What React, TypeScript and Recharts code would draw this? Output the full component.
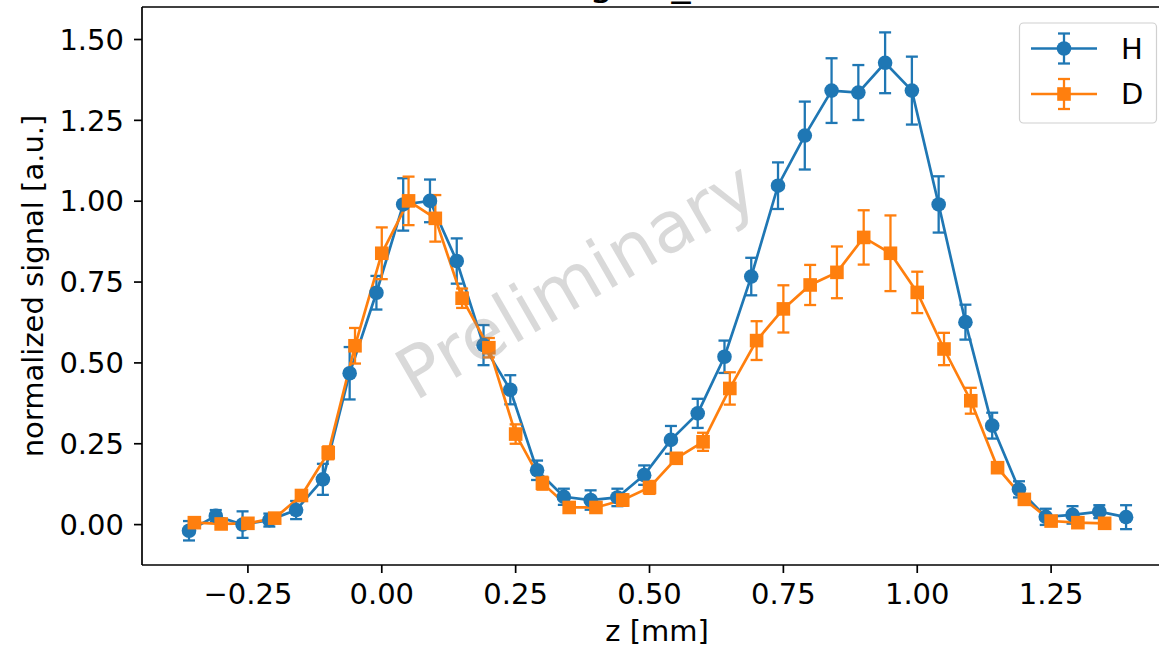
import { LineChart, Line, XAxis, YAxis, ErrorBar } from "recharts"

const BLUE = "#1f77b4"
const ORANGE = "#ff7f0e"
const FONT = "DejaVu Sans"

// H: z from -0.36 in steps of 0.05
const hZ = [
  -0.36, -0.31, -0.26, -0.21, -0.16, -0.11, -0.06, -0.01, 0.04, 0.09, 0.14, 0.19,
  0.24, 0.29, 0.34, 0.39, 0.44, 0.49, 0.54, 0.59, 0.64, 0.69, 0.74, 0.79,
  0.84, 0.89, 0.94, 0.99, 1.04, 1.09, 1.14, 1.19, 1.24, 1.29, 1.34, 1.39,
]
const hVal = [
  -0.019, 0.027, 0.0, 0.014, 0.045, 0.14, 0.468, 0.717, 0.99, 1.001, 0.815, 0.555,
  0.417, 0.168, 0.086, 0.076, 0.084, 0.153, 0.262, 0.344, 0.519, 0.767, 1.048, 1.203,
  1.342, 1.336, 1.428, 1.342, 0.99, 0.626, 0.306, 0.109, 0.024, 0.03, 0.04, 0.023,
]
const hErr = [
  0.03, 0.018, 0.041, 0.02, 0.028, 0.048, 0.081, 0.052, 0.081, 0.066, 0.07, 0.062,
  0.045, 0.03, 0.025, 0.03, 0.027, 0.03, 0.043, 0.045, 0.05, 0.058, 0.072, 0.105,
  0.1, 0.085, 0.094, 0.105, 0.087, 0.054, 0.04, 0.025, 0.025, 0.027, 0.02, 0.037,
]

// D: z from -0.35 in steps of 0.05
const dZ = [
  -0.35, -0.3, -0.25, -0.2, -0.15, -0.1, -0.05, 0.0, 0.05, 0.1, 0.15, 0.2,
  0.25, 0.3, 0.35, 0.4, 0.45, 0.5, 0.55, 0.6, 0.65, 0.7, 0.75, 0.8,
  0.85, 0.9, 0.95, 1.0, 1.05, 1.1, 1.15, 1.2, 1.25, 1.3, 1.35,
]
const dVal = [
  0.006, 0.002, 0.004, 0.02, 0.09, 0.222, 0.553, 0.839, 1.001, 0.947, 0.7, 0.547,
  0.28, 0.128, 0.053, 0.053, 0.076, 0.115, 0.205, 0.256, 0.421, 0.569, 0.667, 0.741,
  0.78, 0.888, 0.839, 0.718, 0.543, 0.383, 0.176, 0.078, 0.011, 0.006, 0.004,
]
const dErr = [
  0.01, 0.01, 0.01, 0.01, 0.012, 0.02, 0.055, 0.08, 0.075, 0.072, 0.03, 0.03,
  0.03, 0.02, 0.015, 0.015, 0.018, 0.02, 0.015, 0.028, 0.05, 0.06, 0.073, 0.062,
  0.08, 0.084, 0.117, 0.064, 0.05, 0.04, 0.015, 0.015, 0.01, 0.01, 0.01,
]

const xTicks = [-0.25, 0, 0.25, 0.5, 0.75, 1.0, 1.25]
const yTicks = [0, 0.25, 0.5, 0.75, 1.0, 1.25, 1.5]

const hData = hZ.map((z, i) => ({ z, v: hVal[i], e: hErr[i] }))
const dData = dZ.map((z, i) => ({ z, v: dVal[i], e: dErr[i] }))

const series = [
  { name: "H", color: BLUE, shape: "circle" },
  { name: "D", color: ORANGE, shape: "square" },
]

const W = 1159
const H = 649

const fmt = (v: number) => {
  const s = Math.abs(v).toFixed(2)
  return v < 0 ? "\u2212" + s : s
}

const Marker = ({ cx, cy, shape, color }: any) =>
  shape === "circle" ? (
    <circle cx={cx} cy={cy} r={7.3} fill={color} />
  ) : (
    <rect x={cx - 6.8} y={cy - 6.8} width={13.6} height={13.6} fill={color} />
  )

const dotFor = (shape: string, color: string) => (props: any) => {
  const { cx, cy, index } = props
  if (cx == null || cy == null) return <g key={index} />
  return <Marker key={index} cx={cx} cy={cy} shape={shape} color={color} />
}

const tickStyle = { fontSize: 29, fill: "#000", fontFamily: FONT }
const axisStroke = { stroke: "#000", strokeWidth: 1.7 }

export default function App() {
  return (
    <div style={{ position: "absolute", left: 0, top: 0, width: W, height: H, background: "#fff" }}>
      <LineChart width={W} height={H} margin={{ top: 7, right: 0, bottom: 0, left: 0 }}>
        <XAxis
          type="number"
          dataKey="z"
          domain={[-0.4478, 1.4515]}
          allowDataOverflow
          ticks={xTicks}
          interval={0}
          tickFormatter={fmt}
          tick={tickStyle}
          tickSize={8}
          tickMargin={10}
          axisLine={axisStroke}
          tickLine={axisStroke}
          height={84}
        />
        <YAxis
          type="number"
          domain={[-0.1249, 1.6005]}
          allowDataOverflow
          ticks={yTicks}
          interval={0}
          tickFormatter={(v: number) => v.toFixed(2)}
          tick={tickStyle}
          tickSize={8}
          tickMargin={10}
          axisLine={axisStroke}
          tickLine={axisStroke}
          width={142}
        />
        <Line
          data={hData}
          dataKey="v"
          name="H"
          type="linear"
          stroke={BLUE}
          strokeWidth={2.7}
          dot={dotFor("circle", BLUE)}
          activeDot={false}
          isAnimationActive={false}
        >
          <ErrorBar dataKey="e" direction="y" width={6} stroke={BLUE} strokeWidth={2.3} isAnimationActive={false} />
        </Line>
        <Line
          data={dData}
          dataKey="v"
          name="D"
          type="linear"
          stroke={ORANGE}
          strokeWidth={2.7}
          dot={dotFor("square", ORANGE)}
          activeDot={false}
          isAnimationActive={false}
        >
          <ErrorBar dataKey="e" direction="y" width={6} stroke={ORANGE} strokeWidth={2.3} isAnimationActive={false} />
        </Line>
      </LineChart>
      <svg
        width={W}
        height={H}
        style={{ position: "absolute", left: 0, top: 0, pointerEvents: "none" }}
        fontFamily={FONT}
      >
        {/* title, mostly cut off by the crop */}
        <text x={559} y={-5} fontSize={38} fill="#000">signal_H/D</text>
        {/* top spine */}
        <line x1={142} y1={7} x2={W} y2={7} stroke="#000" strokeWidth={1.7} />
        {/* axis labels */}
        <text x={657} y={641} fontSize={29} textAnchor="middle" fill="#000">z [mm]</text>
        <text
          x={43}
          y={286}
          fontSize={29}
          textAnchor="middle"
          fill="#000"
          transform="rotate(-90 43 286)"
        >
          normalized signal [a.u.]
        </text>
        {/* watermark */}
        <text
          x={576}
          y={280}
          dy="0.35em"
          fontSize={71}
          textAnchor="middle"
          fill="#808080"
          fillOpacity={0.3}
          transform="rotate(-30 576 280)"
        >
          Preliminary
        </text>
        {/* legend */}
        <rect x={1019.5} y={23} width={137} height={100} rx={4} fill="#fff" fillOpacity={0.8} stroke="#d0d0d0" strokeWidth={1.2} />
        {series.map((s, i) => {
          const y = 48.5 + i * 45.5
          return (
            <g key={s.name}>
              <line x1={1031} y1={y} x2={1097} y2={y} stroke={s.color} strokeWidth={2.7} />
              <line x1={1064} y1={y - 15} x2={1064} y2={y + 15} stroke={s.color} strokeWidth={2.3} />
              <line x1={1058} y1={y - 15} x2={1070} y2={y - 15} stroke={s.color} strokeWidth={2.3} />
              <line x1={1058} y1={y + 15} x2={1070} y2={y + 15} stroke={s.color} strokeWidth={2.3} />
              <Marker cx={1064} cy={y} shape={s.shape} color={s.color} />
              <text x={1121} y={y + 10} fontSize={29} fill="#000">{s.name}</text>
            </g>
          )
        })}
      </svg>
    </div>
  )
}
